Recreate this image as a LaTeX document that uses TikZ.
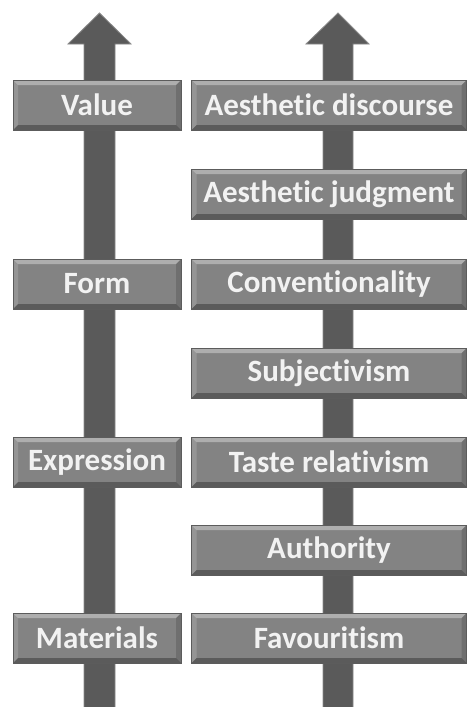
\documentclass[tikz,border=0pt]{standalone}
\usepackage{fontspec}
\setmainfont{Carlito}[Ligatures=NoCommon]
\definecolor{boxgray}{HTML}{838383}
\definecolor{arrowbody}{HTML}{5A5A5A}
\definecolor{arrowedge}{HTML}{8A8A8A}
\tikzset{
  bevelbox/.style={rectangle, inner sep=0pt, minimum height=50pt, fill=boxgray,
    draw=boxgray!70!black, line width=0.6pt,
    text=white!95!black, font=\bfseries\fontsize{31}{34}\selectfont,
    path picture={
      \coordinate (nw) at (path picture bounding box.north west);
      \coordinate (ne) at (path picture bounding box.north east);
      \coordinate (sw) at (path picture bounding box.south west);
      \coordinate (se) at (path picture bounding box.south east);
      \fill[white,opacity=0.35] (nw) -- (ne) -- ([xshift=-5pt,yshift=-5pt]ne) -- ([xshift=5pt,yshift=-5pt]nw) -- cycle;
      \fill[white,opacity=0.15] (nw) -- ([xshift=5pt,yshift=-5pt]nw) -- ([xshift=5pt,yshift=5pt]sw) -- (sw) -- cycle;
      \fill[black,opacity=0.15] (ne) -- ([xshift=-5pt,yshift=-5pt]ne) -- ([xshift=-5pt,yshift=5pt]se) -- (se) -- cycle;
      \fill[black,opacity=0.3] (sw) -- ([xshift=5pt,yshift=5pt]sw) -- ([xshift=-5pt,yshift=5pt]se) -- (se) -- cycle;
    }},
  leftbox/.style={bevelbox, minimum width=168pt},
  rightbox/.style={bevelbox, minimum width=275pt},
  arrowshape/.style={fill=arrowbody, draw=arrowedge, line width=0.8pt, line join=miter}
}
\begin{document}
\begin{tikzpicture}[x=1pt,y=-1pt]
\useasboundingbox (0,0) rectangle (468,707);
% left arrow
\path[arrowshape] (84,708) -- (84,44) -- (68,44) -- (99.5,13) -- (131,44) -- (115,44) -- (115,708);
% right arrow
\path[arrowshape] (323,708) -- (323,44) -- (306,44) -- (338,13) -- (369,44) -- (353,44) -- (353,708);
% left boxes
\node[leftbox] (value) at (97,105) {Value};
\node[leftbox] (form) at (97,284) {Form};
\node[leftbox] (expression) at (97,462) {Expression};
\node[leftbox] (materials) at (97,638) {Materials};
% right boxes
\node[rightbox] (discourse) at (329,105) {Aesthetic discourse};
\node[rightbox] (judgment) at (329,194) {Aesthetic judgment};
\node[rightbox] (conv) at (329,284) {Conventionality};
\node[rightbox] (subj) at (329,373) {Subjectivism};
\node[rightbox] (taste) at (329,462) {Taste relativism};
\node[rightbox] (authority) at (329,550) {Authority};
\node[rightbox] (favour) at (329,638) {Favouritism};
\end{tikzpicture}
\end{document}
